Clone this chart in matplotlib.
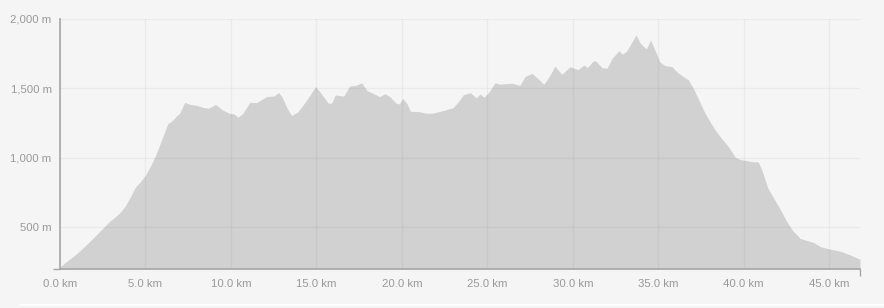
import matplotlib
matplotlib.use("Agg")
import matplotlib.pyplot as plt
from matplotlib.lines import Line2D

# Distance along route (km) and elevation (m)
distance_km = [
    0.0, 0.3, 0.6, 0.9, 1.2, 1.6, 2.0, 2.3, 2.6, 2.9,
    3.2, 3.5, 3.8, 4.1, 4.4, 4.7, 5.0, 5.3, 5.6, 5.9,
    6.1, 6.3, 6.6, 6.8, 7.0, 7.3, 7.6, 8.0, 8.4, 8.7,
    9.1, 9.5, 9.9, 10.2, 10.4, 10.7, 11.1, 11.5, 11.8, 12.1,
    12.5, 12.8, 13.0, 13.3, 13.55, 13.9, 14.4, 14.95, 15.2, 15.7,
    15.9, 16.1, 16.4, 16.6, 16.95, 17.3, 17.65, 17.95, 18.3, 18.7,
    19.0, 19.3, 19.65, 19.85, 20.05, 20.3, 20.5, 21.0, 21.4, 21.8,
    22.4, 23.0, 23.3, 23.6, 24.0, 24.35, 24.57, 24.8, 25.1, 25.45,
    25.75, 26.1, 26.45, 26.9, 27.2, 27.6, 27.9, 28.3, 28.6, 28.95,
    29.35, 29.85, 30.3, 30.65, 30.85, 31.2, 31.35, 31.7, 32.0, 32.3,
    32.7, 32.9, 33.15, 33.45, 33.7, 33.95, 34.3, 34.55, 34.8, 35.1,
    35.4, 35.8, 36.1, 36.4, 36.75, 37.05, 37.4, 37.7, 38.0, 38.35,
    38.7, 39.1, 39.5, 39.8, 40.2, 40.5, 40.85, 41.05, 41.4, 41.8,
    42.15, 42.5, 42.85, 43.3, 43.7, 44.1, 44.5, 45.1, 45.7, 46.25,
    46.8,
]
elevation_m = [
    215, 245, 275, 303, 335, 382, 430, 468, 505, 543,
    572, 605, 650, 715, 787, 828, 875, 943, 1020, 1115,
    1180, 1245, 1272, 1300, 1322, 1400, 1385, 1378, 1362, 1358,
    1385, 1345, 1322, 1315, 1292, 1320, 1400, 1398, 1420, 1442,
    1445, 1470, 1435, 1355, 1305, 1330, 1410, 1513, 1475, 1393,
    1395, 1453, 1448, 1445, 1518, 1522, 1540, 1485, 1465, 1441,
    1462, 1441, 1395, 1388, 1428, 1390, 1335, 1333, 1322, 1322,
    1340, 1362, 1405, 1455, 1470, 1432, 1460, 1436, 1475, 1540,
    1530, 1535, 1537, 1522, 1585, 1609, 1578, 1530, 1582, 1660,
    1602, 1657, 1635, 1669, 1650, 1698, 1697, 1650, 1645, 1717,
    1772, 1746, 1770, 1832, 1885, 1825, 1784, 1849, 1777, 1690,
    1664, 1657, 1618, 1590, 1563, 1501, 1410, 1330, 1265, 1197,
    1140, 1081, 1005, 988, 980, 972, 970, 915, 785, 700,
    625, 545, 478, 420, 405, 390, 360, 342, 326, 300,
    270,
]
assert len(distance_km) == len(elevation_m)

x_ticks = [0, 5, 10, 15, 20, 25, 30, 35, 40, 45]
x_tick_labels = ["0.0 km", "5.0 km", "10.0 km", "15.0 km", "20.0 km",
                 "25.0 km", "30.0 km", "35.0 km", "40.0 km", "45.0 km"]
y_ticks = [500, 1000, 1500, 2000]
y_tick_labels = ["500 m", "1,000 m", "1,500 m", "2,000 m"]
x_max = 46.8
y_min, y_max = 200, 2000

BG = "#f5f5f5"
W, H = 884, 308
fig = plt.figure(figsize=(W / 100, H / 100), dpi=100, facecolor=BG)
ax = fig.add_axes([60 / W, (H - 269) / H, 800 / W, 250 / H])
ax.set_facecolor(BG)

ax.fill_between(distance_km, elevation_m, y_min, color="#d1d1d1",
                linewidth=0, zorder=1)

ax.set_xlim(0, x_max)
ax.set_ylim(y_min, y_max)

ax.set_xticks(x_ticks)
ax.set_xticklabels(x_tick_labels)
ax.set_yticks(y_ticks)
ax.set_yticklabels(y_tick_labels)
ax.set_xticks([0, x_max], minor=True)
ax.set_yticks([y_min, y_max], minor=True)

ax.grid(True, which="major", color="black", alpha=0.04, linewidth=1, zorder=2)
ax.set_axisbelow(False)

for s in ["top", "right"]:
    ax.spines[s].set_visible(False)
for s in ["left", "bottom"]:
    ax.spines[s].set_color("#a6a6a6")
    ax.spines[s].set_linewidth(1.2)
    ax.spines[s].set_zorder(3)

ax.tick_params(which="major", length=0, labelsize=8.2, labelcolor="#999999")
ax.tick_params(axis="x", which="major", pad=7.5)
ax.tick_params(axis="y", which="major", pad=6)
ax.tick_params(which="minor", length=5, width=1.0, color="#a6a6a6")
for lab in ax.get_xticklabels() + ax.get_yticklabels():
    lab.set_fontfamily(["Liberation Sans", "DejaVu Sans"])

fig.add_artist(Line2D([20 / W, 1], [1 - 304.5 / H, 1 - 304.5 / H],
                      transform=fig.transFigure, color="white", linewidth=1.2))

fig.savefig("out.png", dpi=100, facecolor=BG)
